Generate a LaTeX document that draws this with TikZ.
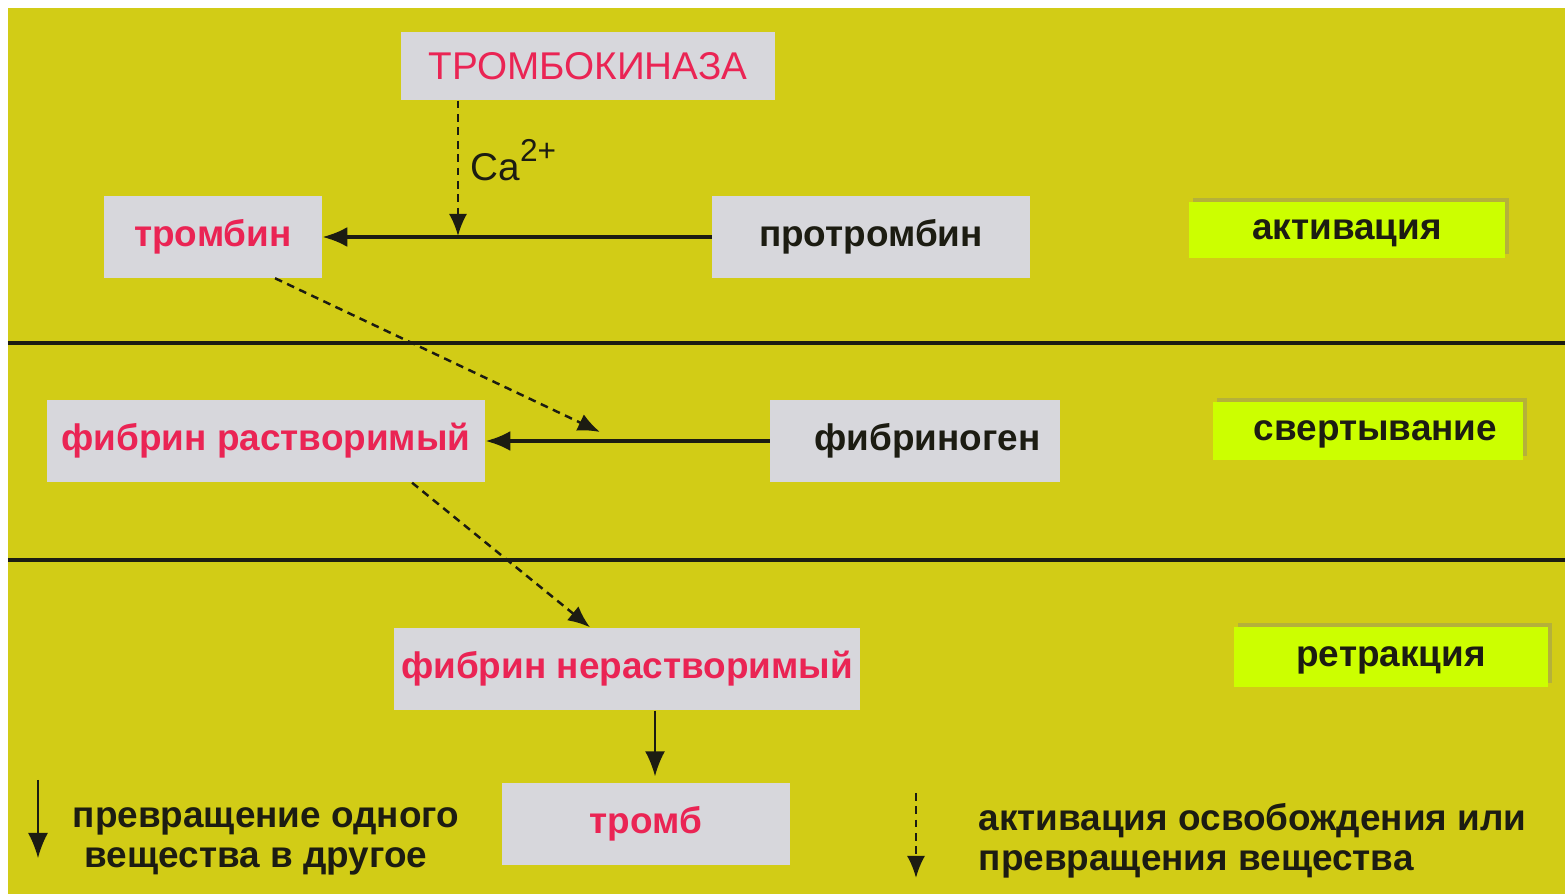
\documentclass[tikz,border=0pt]{standalone}
\usepackage{fontspec}
\setmainfont{Liberation Sans}
\usetikzlibrary{arrows.meta,shadows}
\definecolor{bg}{RGB}{210,204,22}
\definecolor{boxgray}{RGB}{215,215,220}
\definecolor{lime}{RGB}{204,255,0}
\definecolor{enzred}{RGB}{234,36,84}
\definecolor{ink}{RGB}{28,28,18}
\newcommand{\txt}{\fontsize{10.5}{11.4}\selectfont}

\begin{document}
\begin{tikzpicture}[x=0.01cm,y=-0.01cm,
  sub/.style={fill=boxgray,inner sep=0pt,font=\txt\bfseries,text=ink},
  enz/.style={text=enzred},
  phase/.style={fill=lime,inner sep=0pt,text depth=0pt,font=\txt\bfseries,text=ink,
    drop shadow={shadow xshift=0.04cm,shadow yshift=0.04cm,fill=gray,opacity=0.35}},
  conv/.style={-{Latex[length=0.25cm,width=0.2cm]},line width=1.1pt,draw=ink},
  act/.style={-{Latex[length=0.22cm,width=0.18cm]},dash pattern=on 2.2pt off 1.6pt,line width=0.7pt,draw=ink},
  legend/.style={font=\txt\bfseries,text=ink,align=left,inner sep=0pt}]
  \useasboundingbox[fill=white] (0,0) rectangle (1565,894);
  \fill[bg] (8,8) rectangle (1565,894);
  \draw[line width=0.9pt,ink] (8,343) -- (1565,343);
  \draw[line width=0.9pt,ink] (8,560) -- (1565,560);
  %
  \node[sub,enz,minimum width=3.73cm,minimum height=0.68cm] (kin) at (588,66) {\fontsize{11}{13}\selectfont\mdseries ТРОМБОКИНАЗА};
  \node[sub,enz,minimum width=2.17cm,minimum height=0.81cm] (thr) at (213,237) {тромбин};
  \node[sub,minimum width=3.17cm,minimum height=0.81cm] (pro) at (871,237) {протромбин};
  \coordinate (ca) at (458,236);
  \draw[conv] (pro) -- (thr);
  \draw[act] (kin.south -| ca) -- (ca);
  \node[anchor=west,inner sep=0pt,font=\fontsize{11}{13}\selectfont,text=ink] (ion) at (470,160) {Ca\raisebox{0.5em}{\fontsize{9}{10}\selectfont 2+}};
  %
  \node[sub,enz,minimum width=4.37cm,minimum height=0.82cm] (fsol) at (266,441) {фибрин растворимый};
  \node[sub,minimum width=2.89cm,minimum height=0.82cm] (fgen) at (915,441) {\hspace{0.25cm}фибриноген};
  \coordinate (t1) at (600,432);
  \draw[conv] (fgen) -- (fsol);
  \draw[act] ([xshift=0.62cm]thr.south) -- (t1);
  %
  \node[sub,enz,minimum width=4.66cm,minimum height=0.82cm] (fins) at (627,669) {фибрин нерастворимый};
  \node[sub,enz,minimum width=2.87cm,minimum height=0.82cm] (clot) at (646,824) {тромб};
  \draw[act] ([xshift=1.46cm]fsol.south) -- ([xshift=-0.37cm]fins.north);
  \draw[conv,line width=0.6pt,shorten >=0.06cm] ([xshift=0.28cm]fins.south) -- ([xshift=0.28cm]fins.south |- clot.north);
  %
  \node[phase,minimum width=3.15cm,minimum height=0.56cm] (pact) at (1347,230) {активация\hspace{0.25cm}};
  \node[phase,minimum width=3.10cm,minimum height=0.57cm] (pcoag) at (1368,431) {\hspace{0.15cm}свертывание};
  \node[phase,minimum width=3.13cm,minimum height=0.59cm] (pretr) at (1391,657) {ретракция\hspace{0.25cm}};
  %
  \coordinate (l1a) at (38,780);
  \coordinate (l1b) at (38,858);
  \draw[conv,line width=0.5pt] (l1a) -- (l1b);
  \node[legend,anchor=west] (lconv) at (72,841) {превращение одного\\\hspace{0.12cm}вещества в другое};
  \coordinate (l2a) at (916,793);
  \coordinate (l2b) at (916,878);
  \draw[act] (l2a) -- (l2b);
  \node[legend,anchor=west] (lact) at (978,841) {активация освобождения или\\превращения вещества};
\end{tikzpicture}
\end{document}
